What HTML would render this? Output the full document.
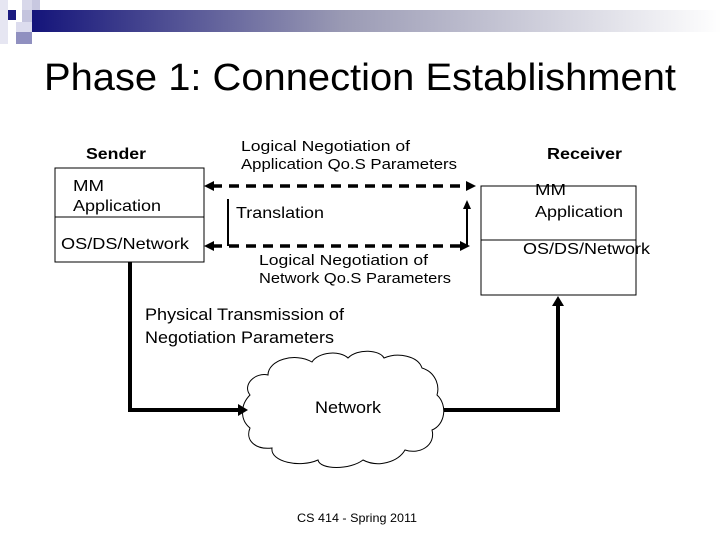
<!DOCTYPE html>
<html><head><meta charset="utf-8"><style>
html,body{margin:0;padding:0;background:#fff;}
body{width:720px;height:540px;overflow:hidden;position:relative;}
</style></head><body>
<svg width="720" height="540" viewBox="0 0 720 540" xmlns="http://www.w3.org/2000/svg" style="position:absolute;left:0;top:0">
<defs>
<linearGradient id="g" x1="0" x2="1" y1="0" y2="0">
<stop offset="0" stop-color="#14147a"/>
<stop offset="0.45" stop-color="#9a9ab4"/>
<stop offset="1" stop-color="#ffffff"/>
</linearGradient>
</defs>
<rect x="32" y="10" width="690" height="22" fill="url(#g)"/>
<rect x="0" y="0" width="8" height="44" fill="#e6e6f2"/>
<rect x="8" y="10" width="8" height="10" fill="#1a1a80"/>
<rect x="22" y="0" width="10" height="10" fill="#d8d8ea"/>
<rect x="22" y="10" width="10" height="12" fill="#c4c4de"/>
<rect x="32" y="0" width="8" height="10" fill="#c8c8e0"/>
<rect x="16" y="22" width="16" height="10" fill="#dcdcee"/>
<rect x="16" y="32" width="16" height="12" fill="#9090c0"/>
<text x="44" y="90" font-family="Liberation Sans, sans-serif" font-size="38" textLength="632" lengthAdjust="spacingAndGlyphs">Phase 1: Connection Establishment</text>
<g stroke="#000" fill="none">
<line x1="212" y1="186" x2="466" y2="186" stroke-width="3.5" stroke-dasharray="10,7"/>
<line x1="212" y1="246" x2="460" y2="246" stroke-width="3.5" stroke-dasharray="10,7"/>
<line x1="228" y1="199" x2="228" y2="246" stroke-width="2"/>
<line x1="467" y1="207" x2="467" y2="246" stroke-width="2"/>
<polyline points="130,262 130,410 240,410" stroke-width="4"/>
<polyline points="443,410 558,410 558,302" stroke-width="4"/>
<path d="M250,395 C242,385 255,372 268,375 C268,360 295,352 312,362 C318,352 340,350 348,358 C358,348 380,350 384,358 C398,352 418,356 422,368 C435,372 440,385 437,395 C448,405 445,425 432,430 C436,445 420,455 405,450 C398,462 378,468 363,460 C350,470 320,470 318,460 C300,468 270,462 272,448 C255,450 245,440 250,428 C240,420 240,405 250,395 Z" stroke-width="1" fill="#fff"/>
<rect x="55" y="168" width="149" height="94" stroke-width="1"/>
<line x1="55" y1="217" x2="204" y2="217"/>
<rect x="481" y="186" width="155" height="109"/>
<line x1="481" y1="240" x2="636" y2="240"/>
</g>
<g fill="#000">
<polygon points="204,186 214,181 214,191"/>
<polygon points="476,186 466,181 466,191"/>
<polygon points="204,246 214,241 214,251"/>
<polygon points="470,246 460,241 460,251"/>
<polygon points="467,200 463,209 471,209"/>
<polygon points="248,410 238,404 238,416"/>
<polygon points="558,296 552,306 564,306"/>
</g>
<g font-family="Liberation Sans, sans-serif" fill="#000" lengthAdjust="spacingAndGlyphs">
<text x="86" y="159" font-size="16" font-weight="bold" textLength="60" lengthAdjust="spacingAndGlyphs">Sender</text>
<text x="547" y="159" font-size="16" font-weight="bold" textLength="75" lengthAdjust="spacingAndGlyphs">Receiver</text>
<text x="73" y="191" font-size="16" textLength="31" lengthAdjust="spacingAndGlyphs">MM</text>
<text x="73" y="211" font-size="16" textLength="88" lengthAdjust="spacingAndGlyphs">Application</text>
<text x="61" y="249" font-size="16" textLength="128" lengthAdjust="spacingAndGlyphs">OS/DS/Network</text>
<text x="535" y="195" font-size="16" textLength="31" lengthAdjust="spacingAndGlyphs">MM</text>
<text x="535" y="217" font-size="16" textLength="88" lengthAdjust="spacingAndGlyphs">Application</text>
<text x="523" y="254" font-size="16" textLength="127" lengthAdjust="spacingAndGlyphs">OS/DS/Network</text>
<text x="241" y="151" font-size="15" textLength="169" lengthAdjust="spacingAndGlyphs">Logical Negotiation of</text>
<text x="241" y="169" font-size="15" textLength="216" lengthAdjust="spacingAndGlyphs">Application Qo.S Parameters</text>
<text x="236" y="218" font-size="16" textLength="88" lengthAdjust="spacingAndGlyphs">Translation</text>
<text x="259" y="265" font-size="15" textLength="169" lengthAdjust="spacingAndGlyphs">Logical Negotiation of</text>
<text x="259" y="283" font-size="15" textLength="192" lengthAdjust="spacingAndGlyphs">Network Qo.S Parameters</text>
<text x="145" y="320" font-size="17" textLength="199" lengthAdjust="spacingAndGlyphs">Physical Transmission of</text>
<text x="145" y="343" font-size="17" textLength="189" lengthAdjust="spacingAndGlyphs">Negotiation Parameters</text>
<text x="315" y="413" font-size="17" textLength="66" lengthAdjust="spacingAndGlyphs">Network</text>
<text x="297" y="522" font-size="12" textLength="120" lengthAdjust="spacingAndGlyphs">CS 414 - Spring 2011</text>
</g>
</svg>
</body></html>
